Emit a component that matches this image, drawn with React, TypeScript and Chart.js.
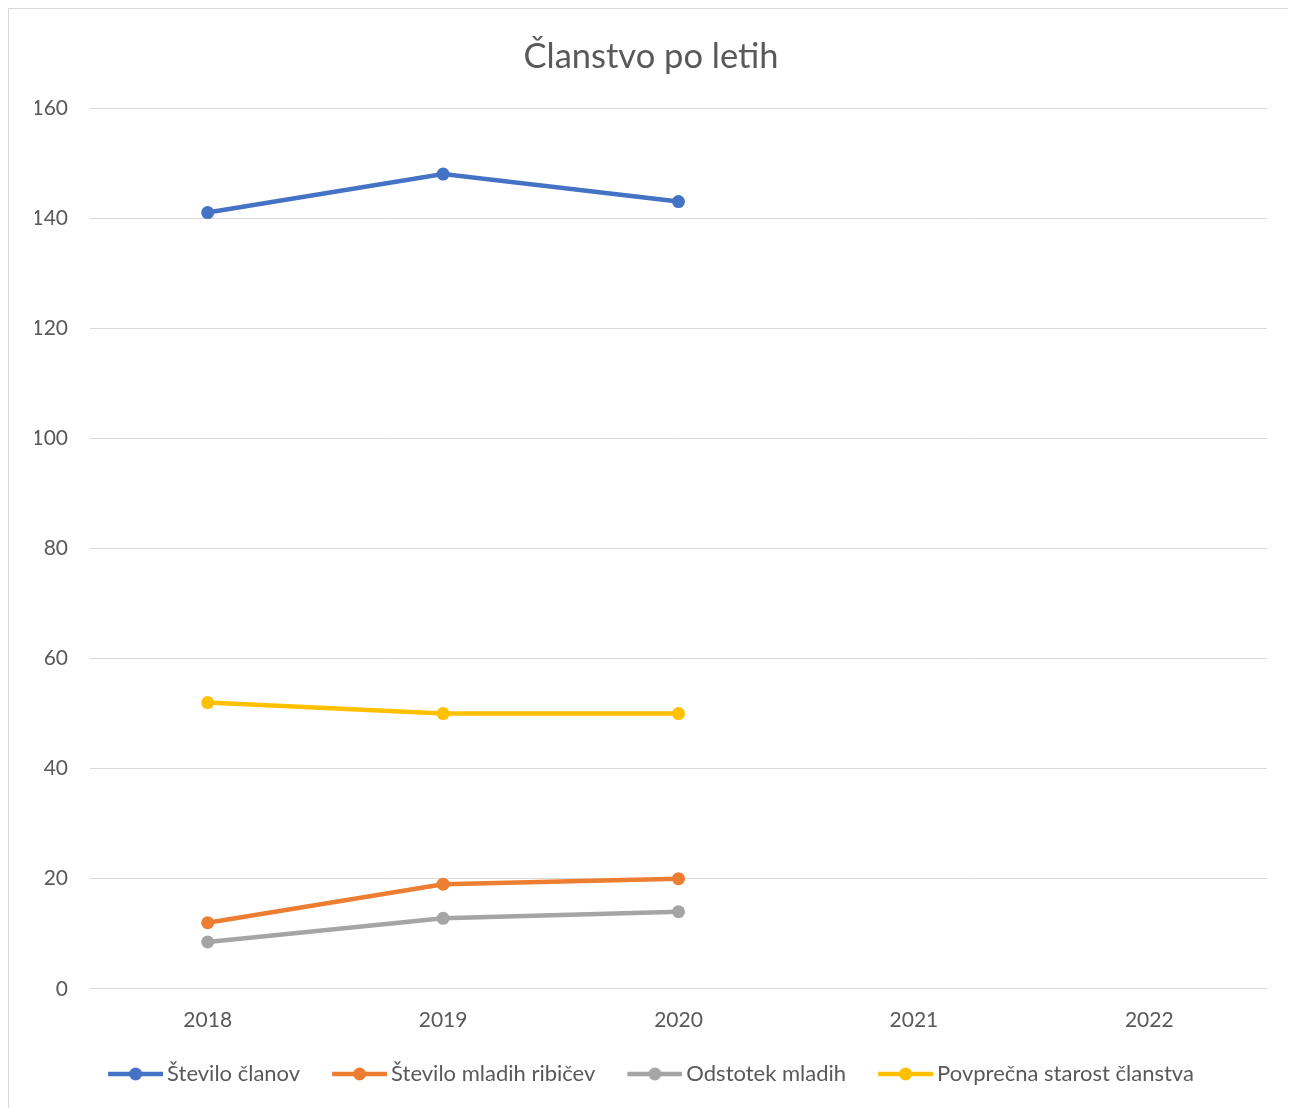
import React, { useEffect, useRef } from "react";
import { Chart, registerables } from "chart.js";

Chart.register(...registerables);

const categories = ["2018", "2019", "2020", "2021", "2022"];
const steviloClanov = [141, 148, 143, null, null];
const steviloMladih = [12, 19, 20, null, null];
const odstotekMladih = [8.5, 12.8, 14.0, null, null];
const povprecnaStarost = [52, 50, 50, null, null];

const seriesNames = [
  "Število članov",
  "Število mladih ribičev",
  "Odstotek mladih",
  "Povprečna starost članstva",
];
const seriesColors = ["#4472C4", "#ED7D31", "#A5A5A5", "#FFC000"];

const FONT = "Lato, 'Noto Sans', sans-serif";
const TEXT = "#595959";

function legendMarker(color: string): HTMLCanvasElement {
  const c = document.createElement("canvas");
  c.width = 62;
  c.height = 16;
  const ctx = c.getContext("2d")!;
  ctx.strokeStyle = color;
  ctx.lineWidth = 4.5;
  ctx.beginPath();
  ctx.moveTo(7, 8);
  ctx.lineTo(62, 8);
  ctx.stroke();
  ctx.fillStyle = color;
  ctx.beginPath();
  ctx.arc(34.5, 8, 6.5, 0, Math.PI * 2);
  ctx.fill();
  return c;
}

export default function App() {
  const ref = useRef<HTMLCanvasElement>(null);
  useEffect(() => {
    if (!ref.current) return;
    const values = [steviloClanov, steviloMladih, odstotekMladih, povprecnaStarost];
    const markers = seriesColors.map(legendMarker);
    const chart = new Chart(ref.current, {
      type: "line",
      data: {
        labels: categories,
        datasets: values.map((d, i) => ({
          label: seriesNames[i],
          data: d,
          borderColor: seriesColors[i],
          backgroundColor: seriesColors[i],
          borderWidth: 4.5,
          pointRadius: 6.5,
          pointHoverRadius: 6.5,
          pointBorderWidth: 0,
          pointBackgroundColor: seriesColors[i],
          tension: 0,
          spanGaps: false,
        })),
      },
      options: {
        animation: false,
        responsive: false,
        maintainAspectRatio: false,
        layout: { padding: { left: 26, right: 22, top: 0, bottom: 0 } },
        plugins: {
          title: {
            display: true,
            text: "Članstvo po letih",
            color: TEXT,
            font: { family: FONT, size: 34.5, weight: "normal", lineHeight: 1.2 },
            padding: { top: 27, bottom: 30.6 },
          },
          legend: {
            position: "bottom",
            labels: {
              usePointStyle: true,
              pointStyleWidth: 48,
              color: TEXT,
              font: { family: FONT, size: 22 },
              padding: 32,
              generateLabels: (ch: any) =>
                ch.data.datasets.map((ds: any, i: number) => ({
                  text: ds.label,
                  pointStyle: markers[i],
                  fillStyle: seriesColors[i],
                  strokeStyle: seriesColors[i],
                  lineWidth: 0,
                  hidden: false,
                  datasetIndex: i,
                  fontColor: TEXT,
                })),
            },
          },
          tooltip: { enabled: false },
        },
        scales: {
          x: {
            offset: true,
            grid: { display: false, drawTicks: false, offset: true },
            border: { display: false },
            ticks: { color: TEXT, font: { family: FONT, size: 21 }, padding: 19 },
            afterFit: (s: any) => {
              s.height -= 21;
            },
          },
          y: {
            min: 0,
            max: 160,
            ticks: { stepSize: 20, color: TEXT, font: { family: FONT, size: 21 }, padding: 22 },
            grid: { color: "#D9D9D9", lineWidth: 1, drawTicks: false },
            border: { display: false },
            afterFit: (s: any) => {
              s.width = 55;
            },
          },
        },
      },
    });
    return () => chart.destroy();
  }, []);
  return (
    <div
      style={{
        width: 1280,
        height: 1107,
        border: "1px solid #D9D9D9",
        background: "#fff",
      }}
    >
      <canvas ref={ref} width={1280} height={1086} style={{ display: "block", width: 1280, height: 1086 }} />
    </div>
  );
}
